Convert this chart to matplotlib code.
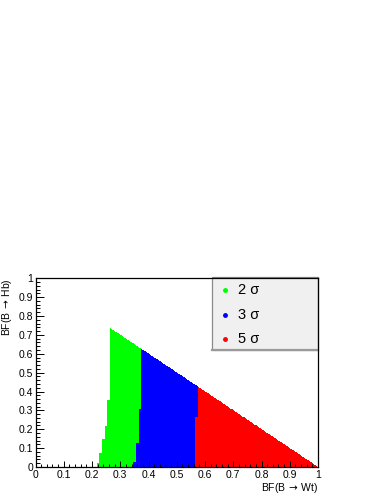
import numpy as np
import matplotlib
matplotlib.use("Agg")
import matplotlib.pyplot as plt
from matplotlib.colors import ListedColormap
from matplotlib.patches import Rectangle
from matplotlib.lines import Line2D

plt.rcParams["font.family"] = ["Liberation Sans", "DejaVu Sans"]

# left edges of each region (step start in BF(B->Hb), x where region begins)
green_y = [0.0, 0.023, 0.076, 0.149, 0.218, 0.356]
green_x = [0.217, 0.226, 0.235, 0.244, 0.252, 0.266]
blue_y = [0.0, 0.028, 0.126, 0.306]
blue_x = [0.345, 0.356, 0.364, 0.372]
red_y = [0.0, 0.262]
red_x = [0.565, 0.574]

labels = ["2 \u03c3", "3 \u03c3", "5 \u03c3"]
colors = ["#00ff00", "#0000ff", "#ff0000"]
tick_vals = [0, 0.1, 0.2, 0.3, 0.4, 0.5, 0.6, 0.7, 0.8, 0.9, 1]
tick_txt = ["0", "0.1", "0.2", "0.3", "0.4", "0.5", "0.6", "0.7", "0.8", "0.9", "1"]


def edge(ys, xs, y):
    # step lookup: last step whose start is below y
    i = np.searchsorted(ys, y, side="right") - 1
    return np.asarray(xs)[i]


step = 0.0025
xe = np.arange(0, 1 + step / 2, step)
ye = np.arange(0, 1 + step / 2, step)
xc = (xe[:-1] + xe[1:]) / 2
yc = (ye[:-1] + ye[1:]) / 2
X, Y = np.meshgrid(xc, yc)

gx = edge(green_y, green_x, Y)
bx = edge(blue_y, blue_x, Y)
rx = edge(red_y, red_x, Y)

Z = np.full(X.shape, np.nan)
Z[X >= gx] = 0
Z[X >= bx] = 1
Z[X >= rx] = 2
Z[X + Y > 1.0] = np.nan
Z = np.ma.masked_invalid(Z)

fig = plt.figure(figsize=(3.82, 4.94), dpi=100)
ax = fig.add_axes([35.5 / 382, 27 / 494, 282.5 / 382, 188.7 / 494])
ax.set_facecolor("none")
ax.pcolormesh(xe, ye, Z, cmap=ListedColormap(colors), vmin=-0.5, vmax=2.5,
              shading="flat", antialiased=False, linewidth=0)

ax.set_xlim(0, 1)
ax.set_ylim(0, 1)
ax.set_xticks(tick_vals)
ax.set_xticklabels(tick_txt)
ax.set_yticks(tick_vals)
ax.set_yticklabels(tick_txt)
ax.set_xticks(np.arange(0, 1.001, 0.02), minor=True)
ax.set_yticks(np.arange(0, 1.001, 0.02), minor=True)
ax.tick_params(axis="x", which="major", direction="in", length=4, width=0.7,
               labelsize=7.5, pad=2)
ax.tick_params(axis="x", which="minor", direction="in", length=2, width=0.7)
ax.tick_params(axis="y", which="major", direction="in", length=6, width=0.7,
               labelsize=7.5, pad=1.5)
ax.tick_params(axis="y", which="minor", direction="in", length=3, width=0.7)
for s in ax.spines.values():
    s.set_linewidth(0.9)

fig.text(318 / 382, 1 - 488 / 494, "BF(B$\\,\\rightarrow\\,$Wt)", ha="right",
         va="center", fontsize=7.5)
fig.text(7 / 382, 1 - 278 / 494, "BF(B$\\,\\rightarrow\\,$Hb)", ha="center",
         va="top", rotation=90, fontsize=7.5)

# legend box (ROOT style, drawn under the frame)
lx0, lx1 = 212 / 382, 318 / 382
ly0, ly1 = 1 - 350 / 494, 1 - 277 / 494
fig.patches.append(Rectangle((lx0, ly0), lx1 - lx0, ly1 - ly0,
                             transform=fig.transFigure, facecolor="#f0f0f0",
                             edgecolor="#8a8a8a", linewidth=0.9, zorder=-2))
fig.lines.append(Line2D([lx0, lx1], [ly0, ly0], color="#9a9a9a", linewidth=1.6,
                        transform=fig.transFigure, zorder=-1))
for i, (lab, c) in enumerate(zip(labels, colors)):
    yy = 1 - (290 + 24.5 * i) / 494
    fig.lines.append(Line2D([225 / 382], [yy], marker="o", markersize=2.5,
                            color=c, transform=fig.transFigure, zorder=-1))
    fig.text(238 / 382, yy, lab, ha="left", va="center", fontsize=10.5,
             zorder=-1)

fig.savefig("out.png", dpi=100)
